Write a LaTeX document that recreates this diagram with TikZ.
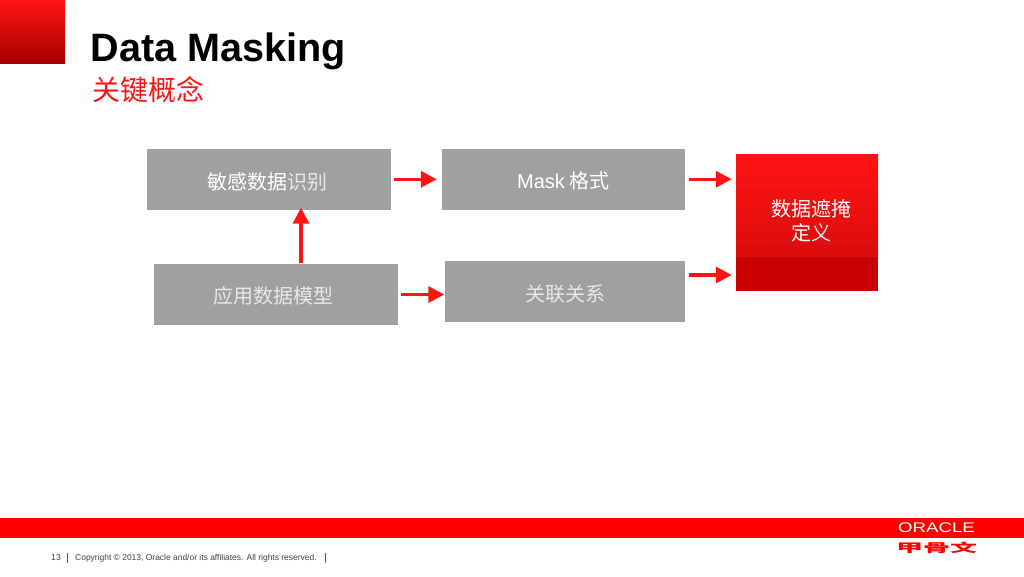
\documentclass[tikz,border=0pt]{standalone}
\usepackage{fontspec}
\setmainfont{Liberation Sans}
\newfontfamily\cjk{Noto Sans CJK SC}
\usetikzlibrary{arrows.meta,calc}
\definecolor{orared}{HTML}{FF0000}
\definecolor{arrowred}{HTML}{FF1414}
\definecolor{boxgray}{HTML}{A0A0A0}
\definecolor{thinwhite}{HTML}{E8E8E8}
\definecolor{gradend}{HTML}{CE0A0A}
\definecolor{lowred}{HTML}{C80000}
\newcommand{\fs}[1]{\fontsize{#1}{#1}\selectfont}
\tikzset{
  graybox/.style={fill=boxgray,draw=none,text=white,inner sep=0pt,text depth=0pt,font=\fs{20}\cjk},
  conn/.style={draw=arrowred,line width=3.4pt,-{Triangle[length=16pt,width=16pt,fill=arrowred]}},
}
\begin{document}
\begin{tikzpicture}[x=1pt,y=-1pt]
\useasboundingbox (0,0) rectangle (1024,576);
% corner tab
\shade[top color=arrowred,bottom color=red!65!black] (0,0) rectangle (65,63);
% titles
\node[name=title,anchor=base west,inner sep=0pt,font=\fs{39.6}\bfseries] at (90.5,61.5) {Data Masking};
\node[name=sub,anchor=west,inner sep=0pt,text=arrowred,font=\fs{28}\cjk] at (92,90) {关键概念};
% boxes
\node[graybox,name=A,minimum width=243.5pt,minimum height=60.5pt,text height=19.5pt] at (268.75,179.25) {敏感数据{\color{thinwhite}识别}\kern3pt};
\node[graybox,name=B,minimum width=243.5pt,minimum height=60.5pt,text height=19pt] at (563.25,179.25) {{\rmfamily\fs{20}Mask} 格式};
\node[graybox,name=C,minimum width=244pt,minimum height=61pt,text height=18.5pt,text=thinwhite] at (276,294.5) {应用数据模型\kern5pt};
\node[graybox,name=D,minimum width=240pt,minimum height=61pt,text height=20pt,text=thinwhite] at (565,291.5) {关联关系};
\node[name=E,minimum width=142pt,minimum height=137pt,inner sep=0pt,
  path picture={
    \shade[top color=arrowred,bottom color=gradend] (path picture bounding box.north west) rectangle ([yshift=34pt]path picture bounding box.south east);
    \fill[lowred] ([yshift=34pt]path picture bounding box.south west) rectangle (path picture bounding box.south east);
  }] at (807,222.5) {};
\node[name=Etext,anchor=center,inner sep=0pt,text=white,align=center,font=\fs{20}\cjk] at (811,221) {数据遮掩\\[4pt]定{\color{thinwhite}义}};
% connectors
\draw[conn,shorten <=3pt,shorten >=4.5pt] (A.east) -- (B.west);
\draw[conn,shorten <=4pt,shorten >=4pt] (B.east) -- (B.east -| E.west);
\draw[conn,shorten <=3pt,shorten >=0.5pt] (C.east) -- (C.east -| D.west);
\draw[conn,shorten <=4pt,shorten >=4pt] ([yshift=16.5pt]D.east) -- ([yshift=16.5pt]D.east -| E.west);
\draw[conn,shorten <=1pt,shorten >=-2pt] ([xshift=25pt]C.north) -- ([xshift=25pt]C.north |- A.south);
% footer band
\fill[orared] (0,518) rectangle (1024,538);
\node[name=oracle,text=white,inner sep=0pt,font=\fs{14},xscale=1.33] at (936.5,528) {ORACLE};
\node[name=jgw,text=orared,inner sep=0pt,font=\fs{12}\cjk\bfseries,xscale=2.25] at (936.5,547.5) {甲骨文};
\node[name=page,anchor=east,inner sep=0pt,text=black!75,font=\fs{8.6}] at (61,558) {13};
\draw[black!65,line width=0.7pt] (67,553) -- (67,563);
\node[name=copy,anchor=west,inner sep=0pt,text=black!75,font=\fs{8.46}] at (75,558.5) {Copyright © 2013, Oracle and/or its affiliates. All rights reserved.};
\draw[black!65,line width=0.7pt] (325,553) -- (325,563);
\end{tikzpicture}
\end{document}
